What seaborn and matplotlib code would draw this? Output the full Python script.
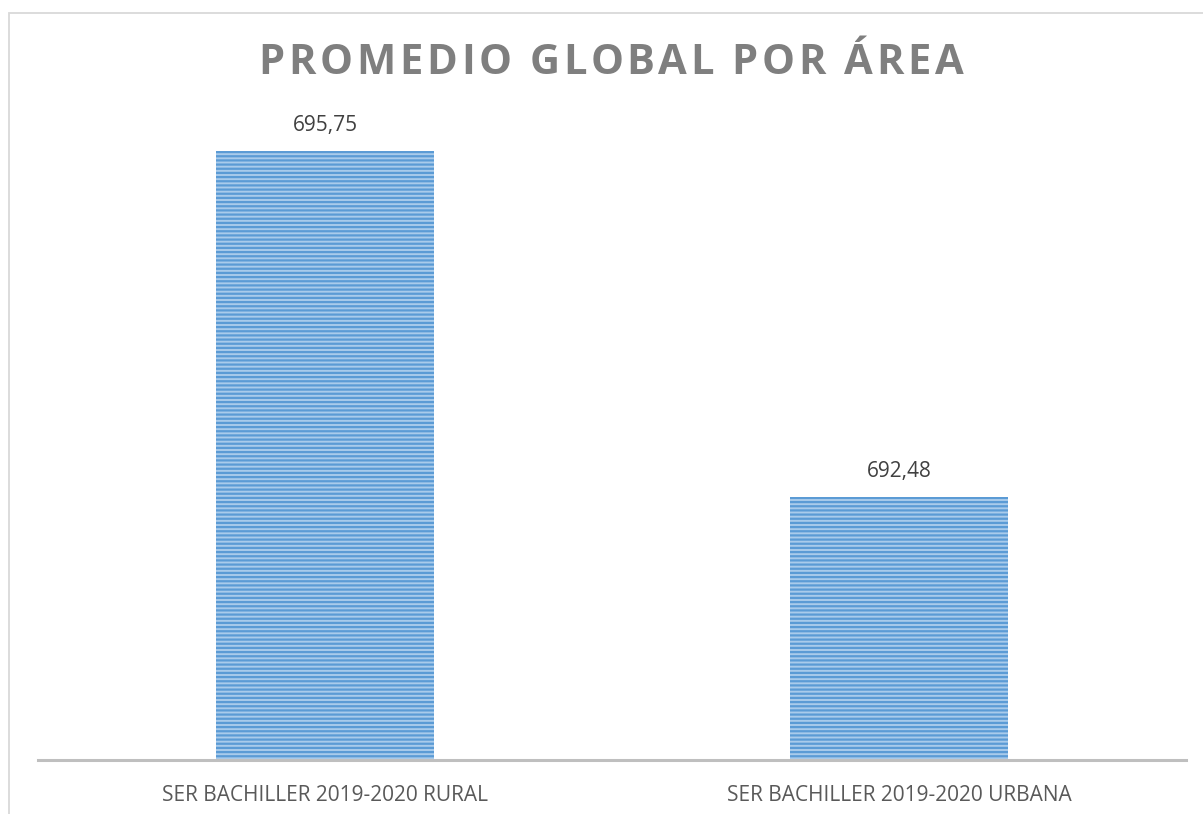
import matplotlib
matplotlib.use("Agg")
import matplotlib.pyplot as plt
from matplotlib.patches import Rectangle
import seaborn as sns

# data
areas = ["SER BACHILLER 2019-2020 RURAL", "SER BACHILLER 2019-2020 URBANA"]
promedios = [695.75, 692.48]
etiquetas = ["695,75", "692,48"]
titulo = "PROMEDIO GLOBAL POR ÁREA"

sns.set_theme(style="white")
plt.rcParams["font.family"] = ["Open Sans", "DejaVu Sans"]
plt.rcParams["hatch.linewidth"] = 1.6

fig = plt.figure(figsize=(12.03, 8.14), dpi=100)
W, H = 1203, 814
ax = fig.add_axes([38 / W, 54 / H, 1148 / W, 741 / H])

sns.barplot(x=areas, y=promedios, ax=ax, color="#A9CBEB", width=0.38,
            hatch="----", edgecolor="#5B9BD5", linewidth=0, saturation=1)

ax.set_ylim(690, 697)
ax.set_xlim(-0.5, 1.5)
for s in ["left", "right", "top"]:
    ax.spines[s].set_visible(False)
ax.spines["bottom"].set_color("#BFBFBF")
ax.spines["bottom"].set_linewidth(2.2)
ax.set_yticks([])
ax.tick_params(axis="x", length=0, pad=18, labelsize=15, labelcolor="#595959")

for i, (v, t) in enumerate(zip(promedios, etiquetas)):
    ax.annotate(t, (i, v), xytext=(0, 11), textcoords="offset points",
                ha="center", va="bottom", fontsize=15, color="#404040")

# title with letter spacing, drawn char by char
renderer = fig.canvas.get_renderer()
tkw = dict(fontsize=30, fontweight="bold", color="#7F7F7F", va="center", ha="left")

def ancho(s):
    t = fig.text(0, 0, s + "|", **tkw)
    b = fig.text(0, 0, "|", **tkw)
    w = t.get_window_extent(renderer).width - b.get_window_extent(renderer).width
    t.remove()
    b.remove()
    return w

sp = 3.7
total = ancho(titulo) + sp * (len(titulo) - 1)
x0 = 611 - total / 2
for i, ch in enumerate(titulo):
    if ch == " ":
        continue
    x = x0 + ancho(titulo[:i]) + i * sp
    fig.text(x / W, 1 - 64 / H, ch, **tkw)

# chart-area border
fig.patches.append(Rectangle((9 / W, -0.05), 1.1, 1 - 13 / H + 0.05,
                             transform=fig.transFigure, fill=False,
                             edgecolor="#D9D9D9", linewidth=1.3))

fig.savefig("out.png", dpi=100)
